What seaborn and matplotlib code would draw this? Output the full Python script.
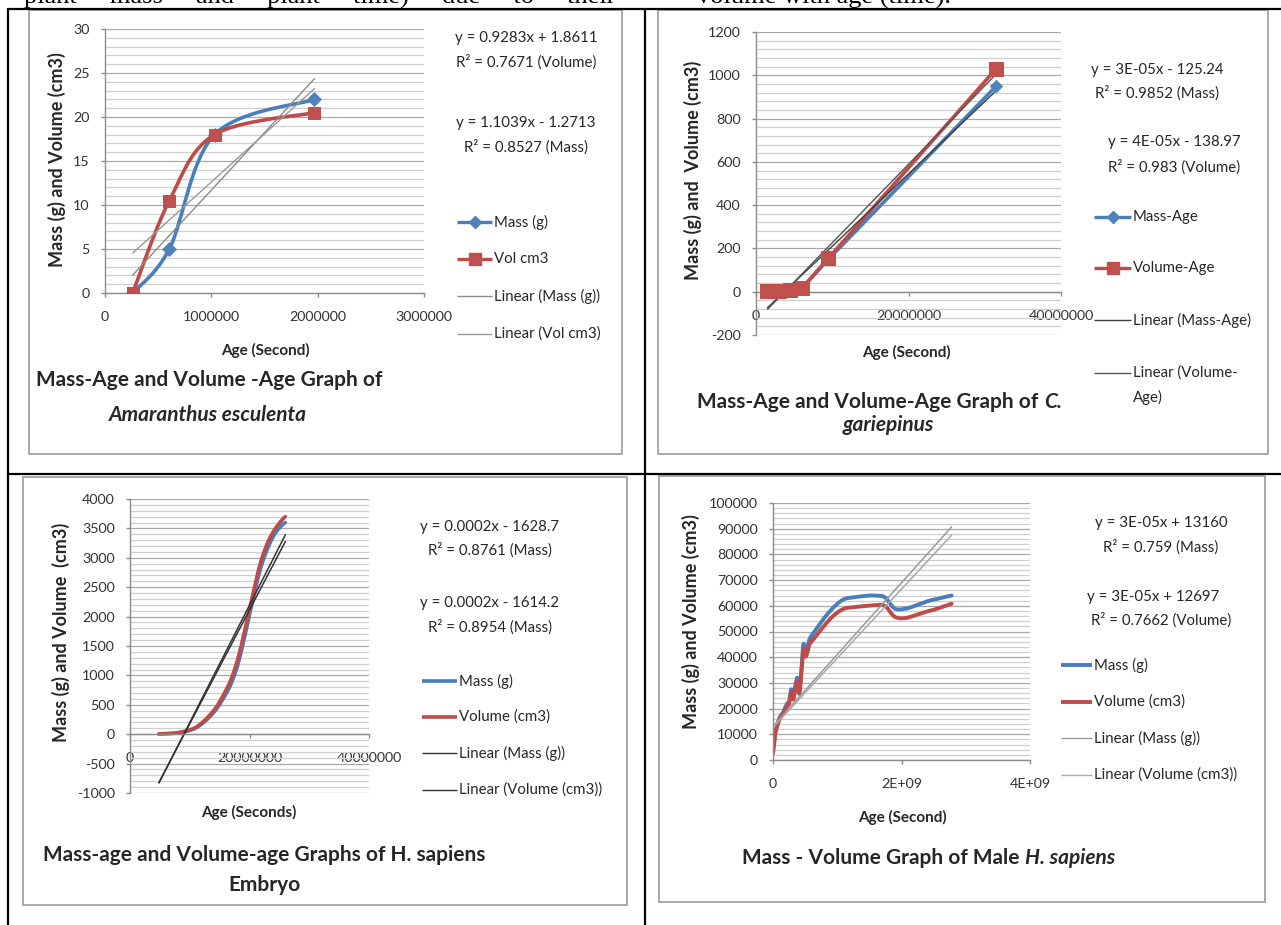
import numpy as np
import matplotlib
matplotlib.use("Agg")
import matplotlib.pyplot as plt
import seaborn as sns
from matplotlib.lines import Line2D
from matplotlib.patches import Rectangle
from matplotlib.ticker import AutoMinorLocator

# Data
# ==================================================

# Amaranthus esculenta
amar_age = [260000, 605000, 1030000, 1970000]
amar_mass = [0, 5, 18, 22]
amar_vol = [0, 10.5, 18, 20.5]

# C. gariepinus
cg_age = [1500000, 3000000, 4500000, 6000000, 9500000, 31500000]
cg_mass = [1, 3, 8, 15, 150, 950]
cg_vol = [1, 3, 8, 15, 155, 1030]

# H. sapiens embryo
emb_age = [4.84e6, 6.05e6, 7.26e6, 8.47e6, 9.68e6, 10.9e6, 12.1e6, 13.3e6, 14.5e6, 15.7e6,
           16.9e6, 18.1e6, 19.4e6, 20.6e6, 21.8e6, 23.0e6, 24.2e6, 25.4e6, 26.0e6]
emb_mass = [3, 8, 15, 30, 55, 100, 180, 290, 430, 620, 850, 1200, 1750, 2300, 2800, 3150, 3400, 3550, 3600]
emb_vol = [4, 9, 17, 34, 62, 110, 200, 320, 470, 680, 930, 1300, 1850, 2400, 2900, 3250, 3480, 3640, 3700]

# Male H. sapiens
male_age = [0, 3.16e7, 6.31e7, 9.47e7, 1.26e8, 1.58e8, 1.89e8, 2.21e8, 2.52e8, 2.84e8, 3.16e8,
            3.47e8, 3.79e8, 4.10e8, 4.42e8, 4.73e8, 5.05e8, 5.37e8, 5.68e8, 6.31e8, 7.89e8,
            9.47e8, 1.10e9, 1.26e9, 1.42e9, 1.58e9, 1.74e9, 1.89e9, 2.05e9, 2.21e9, 2.37e9,
            2.52e9, 2.78e9]
male_mass = [3400, 10000, 13500, 16000, 17500, 18500, 20500, 22000, 23000, 27500, 24500,
             29000, 32000, 27000, 35000, 45000, 42000, 44000, 47000, 49500, 55000,
             59500, 62500, 63300, 63800, 64000, 63300, 59000, 58800, 60000, 61500,
             62500, 64000]
male_vol = [2500, 9500, 13000, 15300, 16800, 17800, 19600, 21000, 22000, 26500, 23500,
            27800, 30500, 25800, 33500, 43000, 40200, 42000, 45000, 47000, 52000,
            56300, 58800, 59500, 59900, 60200, 60000, 55800, 55200, 56300, 57600,
            58600, 60800]
# trendline (slope, intercept) as drawn on the chart
male_trend_mass = (2.79e-5, 13160)
male_trend_vol = (2.69e-5, 12697)

# tick labels
amar_xticks = [0, 1000000, 2000000, 3000000]
amar_xlabels = ["0", "1000000", "2000000", "3000000"]
big_xticks = [0, 20000000, 40000000]
big_xlabels = ["0", "20000000", "40000000"]
male_xticks = [0, 2e9, 4e9]
male_xlabels = ["0", "2E+09", "4E+09"]

BLUE, BLUE_M = "#4A7EBB", "#4F81BD"
RED, RED_M = "#BE4B48", "#C0504D"
TXT = 10.8   # equations / legend text size

sns.set_theme(style="white")
plt.rcParams["font.family"] = ["Lato", "DejaVu Sans"]
plt.rcParams["axes.unicode_minus"] = False

W, H = 1281, 925
fig = plt.figure(figsize=(W / 100, H / 100), dpi=100)


def fx(x):
    return x / W


def fy(y):
    return 1 - y / H


def make_axes(left, right, top, bottom):
    ax = fig.add_axes([fx(left), fy(bottom), (right - left) / W, (bottom - top) / H])
    ax.patch.set_visible(False)
    return ax


def style_axes(ax, xlim, ylim, xticks, xlabels, yticks):
    ax.set_xlim(xlim)
    ax.set_ylim(ylim)
    ax.set_xticks(xticks, xlabels)
    ax.set_yticks(yticks)
    ax.yaxis.set_minor_locator(AutoMinorLocator(5))
    ax.grid(False)
    ax.grid(axis="y", which="major", color="#a8a8a8", lw=0.9)
    ax.grid(axis="y", which="minor", color="#cfcfcf", lw=0.9)
    ax.set_axisbelow(True)
    for s in ["top", "right"]:
        ax.spines[s].set_visible(False)
    for s in ["left", "bottom"]:
        ax.spines[s].set_color("#8c8c8c")
        ax.spines[s].set_linewidth(1)
    ax.spines["bottom"].set_position(("data", 0))
    ax.tick_params(which="major", length=3, width=1, color="#8c8c8c",
                   labelsize=10.3, labelcolor="#333333", left=True, bottom=True)
    ax.tick_params(axis="x", pad=10)
    ax.tick_params(axis="y", pad=8)
    ax.tick_params(which="minor", length=0)
    ax.set_xlabel("")
    ax.set_ylabel("")


def smooth_path(x, y, steps=16):
    # Excel style "smoothed line" rendering (Bezier through the data points)
    pts = np.column_stack([x, y]).astype(float)
    ext = np.vstack([pts[0], pts, pts[-1]])
    t = np.linspace(0, 1, steps + 1)[1:, None]
    out = [pts[:1]]
    for i in range(len(pts) - 1):
        p0, p1, p2, p3 = ext[i], ext[i + 1], ext[i + 2], ext[i + 3]
        c1 = p1 + (p2 - p0) / 6
        c2 = p2 - (p3 - p1) / 6
        seg = (1 - t) ** 3 * p1 + 3 * (1 - t) ** 2 * t * c1 + 3 * (1 - t) * t ** 2 * c2 + t ** 3 * p2
        out.append(seg)
    s = np.vstack(out)
    return s[:, 0], s[:, 1]


def smooth_line(ax, x, y, color, lw):
    sx, sy = smooth_path(x, y)
    sns.lineplot(x=sx, y=sy, sort=False, estimator=None, ax=ax, color=color, lw=lw)


def legend_item(x0, x1, y, label, color, lw, marker=None, ms=0, mfc=None):
    fig.add_artist(Line2D([fx(x0), fx(x1)], [fy(y), fy(y)], transform=fig.transFigure,
                          color=color, lw=lw, solid_capstyle="butt"))
    if marker:
        fig.add_artist(Line2D([fx((x0 + x1) / 2)], [fy(y)], transform=fig.transFigure,
                              marker=marker, ms=ms, color=mfc, mec=mfc, lw=0))
    fig.text(fx(x1 + 2), fy(y), label, ha="left", va="center", size=TXT, color="#262626")


def ctext(x, y, s, **kw):
    kw.setdefault("size", TXT)
    kw.setdefault("color", "#262626")
    return fig.text(fx(x), fy(y), s, ha="center", va="center", **kw)


def ylab(x, y, s):
    ctext(x, y, s, rotation=90, weight="bold", size=13)


# Page furniture: cut-off sentence, table rules, chart frames
# ==================================================
fig.text(fx(24), fy(4), "plant     mass     and     plant     time)     due     to     their",
         family="Liberation Serif", size=19, va="baseline", ha="left", color="black")
fig.text(fx(697), fy(4), "volume with age (time).", family="Liberation Serif", size=19,
         va="baseline", ha="left", color="black")

for (x0, y0, x1, y1) in [(8, 9, 1281, 9), (8, 474, 1281, 474), (8, 9, 8, 925), (645, 9, 645, 925)]:
    fig.add_artist(Line2D([fx(x0), fx(x1)], [fy(y0), fy(y1)], transform=fig.transFigure,
                          color="black", lw=1.6, zorder=5))

for (x0, y0, x1, y1) in [(29, 10, 622, 454), (658, 10, 1268, 454), (23, 477, 627, 905), (659, 476, 1265, 902)]:
    fig.add_artist(Rectangle((fx(x0), fy(y1)), fx(x1) - fx(x0), fy(y0) - fy(y1), transform=fig.transFigure,
                             facecolor="white", edgecolor="#a3a3a3", lw=1.3, zorder=-1))

# Panel 1: Amaranthus esculenta
# ==================================================
ax1 = make_axes(105, 424, 29, 293)
smooth_line(ax1, amar_age, amar_mass, BLUE, 2.6)
smooth_line(ax1, amar_age, amar_vol, RED, 2.6)
sns.scatterplot(x=amar_age, y=amar_mass, marker="D", s=50, color=BLUE_M, edgecolor=BLUE_M, ax=ax1, zorder=4)
sns.scatterplot(x=amar_age, y=amar_vol, marker="s", s=80, color=RED_M, edgecolor=RED_M, ax=ax1, zorder=4)
sns.regplot(x=amar_age, y=amar_mass, scatter=False, ci=None, color="#8a8a8a", line_kws={"lw": 1}, ax=ax1)
sns.regplot(x=amar_age, y=amar_vol, scatter=False, ci=None, color="#9a9a9a", line_kws={"lw": 1}, ax=ax1)
style_axes(ax1, (0, 3000000), (0, 30), amar_xticks, amar_xlabels, range(0, 31, 5))

ylab(57, 160, "Mass (g) and Volume (cm3)")
ctext(265, 350, "Age (Second)", weight="bold", size=11)
ctext(209, 380, "Mass-Age and Volume -Age Graph of", weight="bold", size=15)
ctext(208, 415, "Amaranthus esculenta", weight="bold", style="italic", size=15)
ctext(526, 38, "y = 0.9283x + 1.8611")
ctext(526, 62, "R² = 0.7671 (Volume)")
ctext(526, 123, "y = 1.1039x - 1.2713")
ctext(526, 147, "R² = 0.8527 (Mass)")
legend_item(457, 492, 222, "Mass (g)", BLUE, 2.4, "D", 6, BLUE_M)
legend_item(457, 492, 259, "Vol cm3", RED, 2.4, "s", 8, RED_M)
legend_item(457, 492, 296, "Linear (Mass (g))", "#8a8a8a", 1)
legend_item(457, 492, 334, "Linear (Vol cm3)", "#9a9a9a", 1)

# Panel 2: C. gariepinus
# ==================================================
ax2 = make_axes(756, 1061, 32, 335)
sns.lineplot(x=cg_age, y=cg_mass, ax=ax2, color=BLUE, lw=2.6)
sns.scatterplot(x=cg_age, y=cg_mass, marker="D", s=40, color=BLUE_M, edgecolor=BLUE_M, ax=ax2, zorder=4)
sns.lineplot(x=cg_age, y=cg_vol, ax=ax2, color=RED, lw=2.6)
sns.scatterplot(x=cg_age, y=cg_vol, marker="s", s=90, color=RED_M, edgecolor=RED_M, ax=ax2, zorder=4)
sns.regplot(x=cg_age, y=cg_mass, scatter=False, ci=None, color="#404040", line_kws={"lw": 1}, ax=ax2)
sns.regplot(x=cg_age, y=cg_vol, scatter=False, ci=None, color="#555555", line_kws={"lw": 1}, ax=ax2)
style_axes(ax2, (0, 40000000), (-200, 1200), big_xticks, big_xlabels, range(-200, 1201, 200))

ylab(693, 170, "Mass (g) and  Volume (cm3)")
ctext(906, 352, "Age (Second)", weight="bold", size=11)
t2 = fig.text(fx(697), fy(402), "Mass-Age and Volume-Age Graph of", ha="left", va="center",
              weight="bold", size=15, color="#262626")
plt.annotate("C.", xy=(1, 0), xycoords=t2, xytext=(4, 0), textcoords="offset points",
             va="bottom", ha="left", weight="bold", style="italic", size=15, color="#262626")
ctext(888, 425, "gariepinus", weight="bold", style="italic", size=15)
ctext(1157, 70, "y = 3E-05x - 125.24")
ctext(1157, 93, "R² = 0.9852 (Mass)")
ctext(1174, 142, "y = 4E-05x - 138.97")
ctext(1174, 167, "R² = 0.983 (Volume)")
legend_item(1094, 1131, 217, "Mass-Age", BLUE, 2.4, "D", 6, BLUE_M)
legend_item(1094, 1131, 268, "Volume-Age", RED, 2.4, "s", 8, RED_M)
legend_item(1094, 1131, 320, "Linear (Mass-Age)", "#404040", 1)
legend_item(1094, 1131, 373, "Linear (Volume-", "#555555", 1)
fig.text(fx(1133), fy(397), "Age)", ha="left", va="center", size=TXT, color="#262626")

# Panel 3: H. sapiens embryo
# ==================================================
ax3 = make_axes(130, 369, 499, 793)
smooth_line(ax3, emb_age, emb_mass, BLUE, 2.6)
smooth_line(ax3, emb_age, emb_vol, RED, 2.6)
sns.regplot(x=emb_age, y=emb_mass, scatter=False, ci=None, color="#333333", line_kws={"lw": 1.1}, ax=ax3)
sns.regplot(x=emb_age, y=emb_vol, scatter=False, ci=None, color="#333333", line_kws={"lw": 1.1}, ax=ax3)
style_axes(ax3, (0, 40000000), (-1000, 4000), big_xticks, big_xlabels, range(-1000, 4001, 500))

ylab(61, 632, "Mass (g) and Volume  (cm3)")
ctext(249, 812, "Age (Seconds)", weight="bold", size=11)
ctext(264, 855, "Mass-age and Volume-age Graphs of H. sapiens", weight="bold", size=15)
ctext(265, 885, "Embryo", weight="bold", size=15)
ctext(490, 527, "y = 0.0002x - 1628.7")
ctext(490, 550, "R² = 0.8761 (Mass)")
ctext(490, 603, "y = 0.0002x - 1614.2")
ctext(490, 627, "R² = 0.8954 (Mass)")
legend_item(422, 457, 681, "Mass (g)", BLUE, 2.6)
legend_item(422, 457, 717, "Volume (cm3)", RED, 2.6)
legend_item(422, 457, 753, "Linear (Mass (g))", "#333333", 1)
legend_item(422, 457, 790, "Linear (Volume (cm3))", "#333333", 1)

# Panel 4: Male H. sapiens
# ==================================================
ax4 = make_axes(773, 1030, 503, 760)
smooth_line(ax4, male_age, male_mass, BLUE, 2.8)
smooth_line(ax4, male_age, male_vol, RED, 2.8)
trend_x = [min(male_age), max(male_age)]
for (slope, icpt), col in [(male_trend_mass, "#9a9a9a"), (male_trend_vol, "#a8a8a8")]:
    sns.lineplot(x=trend_x, y=[slope * v + icpt for v in trend_x], ax=ax4, color=col, lw=1.1)
style_axes(ax4, (0, 4e9), (0, 100000), male_xticks, male_xlabels, range(0, 100001, 10000))

ylab(691, 622, "Mass (g) and Volume (cm3)")
ctext(902, 817, "Age (Second)", weight="bold", size=11)
t4 = fig.text(fx(742), fy(858), "Mass - Volume Graph of Male", ha="left", va="center",
              weight="bold", size=15, color="#262626")
plt.annotate("H. sapiens", xy=(1, 0), xycoords=t4, xytext=(4, 0), textcoords="offset points",
             va="bottom", ha="left", weight="bold", style="italic", size=15, color="#262626")
ctext(1161, 523, "y = 3E-05x + 13160")
ctext(1161, 547, "R² = 0.759 (Mass)")
ctext(1153, 597, "y = 3E-05x + 12697")
ctext(1161, 620, "R² = 0.7662 (Volume)")
legend_item(1061, 1092, 665, "Mass (g)", BLUE, 2.8)
legend_item(1061, 1092, 702, "Volume (cm3)", RED, 2.8)
legend_item(1061, 1092, 738, "Linear (Mass (g))", "#9a9a9a", 1)
legend_item(1061, 1092, 775, "Linear (Volume (cm3))", "#a8a8a8", 1)

plt.savefig("out.png", dpi=100)
